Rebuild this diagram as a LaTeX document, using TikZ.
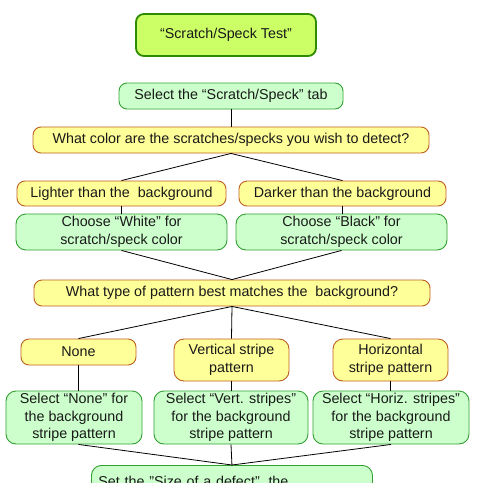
\documentclass[tikz,border=0pt]{standalone}
\usepackage{fontspec}
\setmainfont{Liberation Sans}
\definecolor{titlefill}{HTML}{CCFF66}
\definecolor{titleborder}{HTML}{2E8B00}
\definecolor{greenfill}{HTML}{CCFFCC}
\definecolor{greenborder}{HTML}{33A033}
\definecolor{yellowfill}{HTML}{FFFF99}
\definecolor{yellowborder}{HTML}{BF6020}
\begin{document}
\begin{tikzpicture}[x=1pt,y=-1pt,
  base/.style={rounded corners=8pt, inner sep=0pt, align=center,
    font=\fontsize{14.3}{17.7}\selectfont, text=black!90},
  titlebox/.style={base, draw=titleborder, fill=titlefill, line width=1.8pt},
  greenbox/.style={base, draw=greenborder, fill=greenfill, line width=0.9pt},
  yellowbox/.style={base, draw=yellowborder, fill=yellowfill, line width=0.9pt},
  link/.style={draw=black, line width=0.8pt}]
\useasboundingbox (0,0) rectangle (478,483);

\node[titlebox, minimum width=180pt, minimum height=42pt] (title) at (226,35) {“Scratch/Speck Test”};
\node[greenbox, minimum width=224pt, minimum height=26pt] (tab) at (231,96) {Select the “Scratch/Speck” tab};
\node[yellowbox, minimum width=396pt, minimum height=26pt] (q1) at (231,140) {What color are the scratches/specks you wish to detect?};
\node[yellowbox, minimum width=209pt, minimum height=25pt] (light) at (121.5,193.5) {Lighter than the\ \ background};
\node[yellowbox, minimum width=207pt, minimum height=25pt] (dark) at (342.5,193.5) {Darker than the background};
\node[greenbox, minimum width=211pt, minimum height=36pt, rounded corners=10pt] (white) at (121.5,232) {Choose “White” for\\scratch/speck color};
\node[greenbox, minimum width=211pt, minimum height=36pt, rounded corners=10pt] (black) at (341.5,232) {Choose “Black” for\\scratch/speck color};
\node[yellowbox, minimum width=396pt, minimum height=26pt] (q2) at (232,293) {What type of pattern best matches the\ \ background?};
\node[yellowbox, minimum width=115pt, minimum height=26pt] (none) at (78.5,352) {None};
\node[yellowbox, minimum width=115pt, minimum height=42pt, rounded corners=10pt] (vert) at (231.5,360) {Vertical stripe\\pattern};
\node[yellowbox, minimum width=115pt, minimum height=42pt, rounded corners=10pt] (horiz) at (390.5,360) {Horizontal\\stripe pattern};
\node[greenbox, minimum width=136pt, minimum height=53pt, rounded corners=10pt] (snone) at (74,417.5) {Select “None” for\\the background\\stripe pattern};
\node[greenbox, minimum width=154pt, minimum height=53pt, rounded corners=10pt] (svert) at (231,417.5) {Select “Vert. stripes”\\for the background\\stripe pattern};
\node[greenbox, minimum width=156pt, minimum height=53pt, rounded corners=10pt] (shoriz) at (391,417.5) {Select “Horiz. stripes”\\for the background\\stripe pattern};
\node[greenbox, anchor=north west, rounded corners=10pt, align=left, text width=267pt,
  inner xsep=7pt, inner ysep=11pt, text height=10.5pt, text depth=40pt] (set) at (91,465) {Set the "Size of a defect", the};

\path[link] (tab.south) -- (q1.north);
\path[link] (q1.south) -- (light.north);
\path[link] (q1.south) -- (dark.north);
\path[link] (light.south) -- (light.south |- white.north);
\path[link] (dark.south) -- (dark.south |- black.north);
\path[link] (white.south) -- (q2.north);
\path[link] (black.south) -- (q2.north);
\path[link] (q2.south) -- (none.north);
\path[link] (q2.south) -- (vert.north);
\path[link] (q2.south) -- (horiz.north);
\path[link] (none.south) -- (none.south |- snone.north);
\path[link] (vert.south) -- (vert.south |- svert.north);
\path[link] (horiz.south) -- (horiz.south |- shoriz.north);
\path[link] (none.south |- snone.south) -- (set.north);
\path[link] (svert.south) -- (set.north);
\path[link] (shoriz.south) -- (set.north);
\end{tikzpicture}
\end{document}
